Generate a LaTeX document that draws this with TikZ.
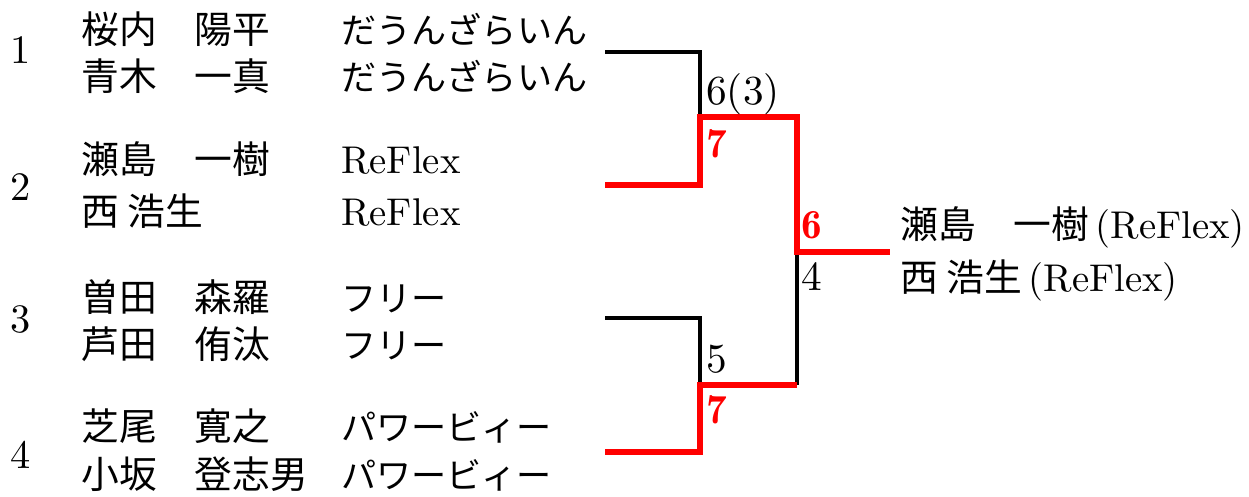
\documentclass[tikz,border=0pt]{standalone}
\usepackage{fontspec}
\setmainfont{lmroman10-regular.otf}[BoldFont=lmroman10-bold.otf]
\newfontfamily\demi{lmromandemi10-regular.otf}
\newfontfamily\jp{Noto Sans CJK JP}

\begin{document}
\begin{tikzpicture}[x=0.02cm,y=-0.02cm,
                    every node/.style={inner sep=0pt,anchor=base west},
                    seed/.style={font=\fontsize{23}{27}\selectfont},
                    player/.style={font=\jp\fontsize{21.5}{26}\selectfont},
                    team/.style={font=\jp\fontsize{20}{24}\selectfont},
                    club/.style={font=\fontsize{22}{26}\selectfont},
                    score/.style={font=\fontsize{23.5}{27}\selectfont},
                    win/.style={text=red,font=\demi\fontsize{23.5}{27}\selectfont},
                    lose/.style={line width=2pt},
                    won/.style={line width=3.8pt,red}]

  \useasboundingbox (0,0) rectangle (1249,497);

  % seeds
  \node[seed] (1) at (10,63)  {1};
  \node[seed] (2) at (10,200) {2};
  \node[seed] (3) at (10,332) {3};
  \node[seed] (4) at (10,468) {4};

  % pairs
  \node[player] (p1a) at (81,43)  {桜内　陽平};
  \node[player] (p1b) at (81,91)  {青木　一真};
  \node[player] (p2a) at (81,173) {瀬島　一樹};
  \node[player] (p2b) at (81,225) {西 浩生};
  \node[player] (p3a) at (81,311) {曽田　森羅};
  \node[player] (p3b) at (81,358) {芦田　侑汰};
  \node[player] (p4a) at (81,440) {芝尾　寛之};
  \node[player] (p4b) at (81,488) {小坂　登志男};

  \node[team] (t1a) at (341,43)  {だうんざらいん};
  \node[team] (t1b) at (341,91)  {だうんざらいん};
  \node[club] (t2a) at (341,173) {ReFlex};
  \node[club] (t2b) at (341,225) {ReFlex};
  \node[team] (t3a) at (341,311) {フリー};
  \node[team] (t3b) at (341,358) {フリー};
  \node[team] (t4a) at (341,440) {パワービィー};
  \node[team] (t4b) at (341,488) {パワービィー};

  % champion
  \node[player] (w1) at (900,238) {瀬島　一樹{\rmfamily\fontsize{22}{26}\selectfont\,(ReFlex)}};
  \node[player] (w2) at (900,291) {西 浩生{\rmfamily\fontsize{22}{26}\selectfont\,(ReFlex)}};

  % bracket
  \coordinate (e1) at (605,52);
  \coordinate (e2) at (605,185);
  \coordinate (e3) at (605,318);
  \coordinate (e4) at (605,452);
  \coordinate (m1) at (700,117);
  \coordinate (m2) at (700,385);
  \coordinate (f)  at (797,252);
  \coordinate (c)  at (890,252);

  \draw[lose] (e1) -| (m1);
  \draw[lose] (e3) -| (m2);
  \draw[lose] (m2 -| f) -- (f);
  \draw[won]  (e2) -| (m1) -| (f) -- (c);
  \draw[won]  (e4) -| (m2) -- (m2 -| f);

  % scores
  \node[score] (s1) at (706,104) {6(3)};
  \node[win]   (s2) at (706,157) {7};
  \node[score] (s3) at (706,372) {5};
  \node[win]   (s4) at (706,423) {7};
  \node[win]   (s5) at (801,238) {6};
  \node[score] (s6) at (801,290) {4};
\end{tikzpicture}
\end{document}
